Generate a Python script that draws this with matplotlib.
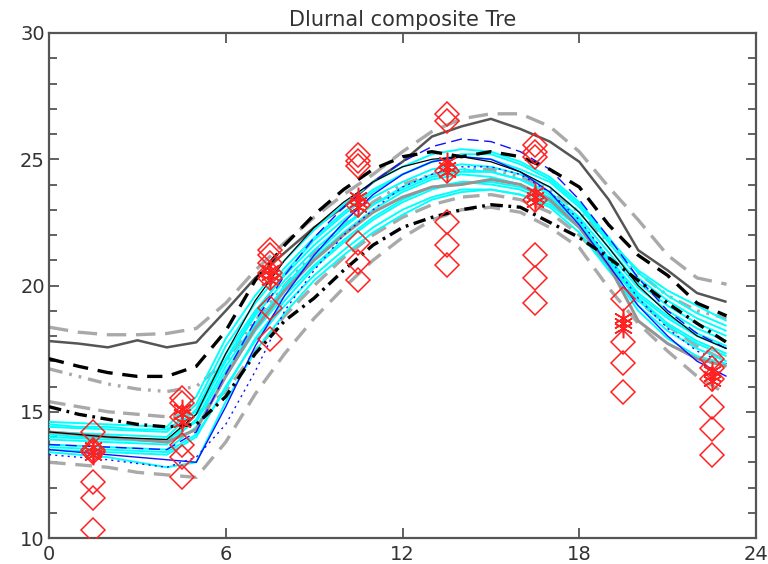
import matplotlib
matplotlib.use("Agg")
import matplotlib.pyplot as plt
import numpy as np

plt.rcParams['lines.scale_dashes'] = False

hours = list(range(24))

# ---- model / composite curves (hourly, 0..23) ----
dark_gray_solid = [17.8, 17.7, 17.55, 17.83, 17.55, 17.75, 19.0, 20.3, 21.3, 22.3, 23.1, 24.1,
                   24.9, 25.9, 26.3, 26.6, 26.2, 25.7, 24.9, 23.4, 21.4, 20.6, 19.7, 19.35]
lgray_longdash = [18.35, 18.15, 18.05, 18.05, 18.1, 18.3, 19.3, 20.6, 21.7, 22.7, 23.6, 24.4,
                  25.3, 26.1, 26.6, 26.8, 26.8, 26.3, 25.3, 23.9, 22.6, 21.2, 20.3, 20.05]
black_dash = [17.1, 16.8, 16.55, 16.4, 16.4, 16.8, 18.2, 20.2, 21.6, 22.8, 23.8, 24.6,
              25.1, 25.3, 25.1, 25.3, 25.1, 24.6, 23.9, 22.4, 21.2, 20.4, 19.3, 18.8]
lgray_dashdot = [16.7, 16.4, 16.1, 15.9, 15.8, 16.0, 17.0, 18.6, 20.0, 21.3, 22.4, 23.3,
                 24.0, 24.4, 24.6, 24.6, 24.3, 23.8, 22.9, 21.7, 20.5, 19.6, 19.0, 18.7]
black_dashdot = [15.2, 14.9, 14.7, 14.5, 14.4, 14.5, 15.6, 17.3, 18.6, 19.5, 20.6, 21.6,
                 22.3, 22.7, 23.0, 23.2, 23.1, 22.5, 21.9, 21.1, 20.2, 19.3, 18.5, 17.75]
lgray_dash_mid = [15.4, 15.2, 15.0, 14.9, 14.8, 14.9, 15.8, 17.4, 18.8, 20.0, 21.1, 22.0,
                  22.7, 23.2, 23.5, 23.6, 23.4, 22.9, 22.0, 20.8, 19.4, 18.4, 17.6, 17.0]
lgray_dash_low = [13.0, 12.9, 12.8, 12.6, 12.5, 12.4, 13.8, 15.7, 17.3, 18.7, 19.9, 21.0,
                  21.9, 22.6, 23.0, 23.1, 22.9, 22.3, 21.5, 19.9, 18.5, 17.4, 16.4, 15.7]
gray_solid = [14.2, 14.1, 14.0, 13.9, 13.8, 14.3, 16.4, 18.3, 19.8, 21.0, 22.0, 22.9,
              23.5, 23.9, 24.0, 24.2, 24.0, 23.4, 22.3, 20.8, 18.6, 17.7, 17.1, 16.8]

cyan_1 = [14.6, 14.55, 14.5, 14.45, 14.4, 15.6, 17.9, 19.6, 21.0, 22.2, 23.2, 24.1,
          24.7, 25.2, 25.4, 25.3, 24.9, 24.3, 23.3, 21.9, 20.5, 19.6, 18.9, 18.4]
cyan_2 = [14.4, 14.35, 14.3, 14.25, 14.2, 15.3, 17.6, 19.3, 20.7, 21.9, 22.9, 23.8,
          24.4, 24.9, 25.1, 25.0, 24.6, 24.1, 23.1, 21.7, 20.3, 19.4, 18.7, 18.2]
cyan_3 = [14.2, 14.15, 14.1, 14.05, 14.0, 15.1, 17.3, 19.0, 20.4, 21.6, 22.6, 23.5,
          24.1, 24.6, 24.8, 24.7, 24.4, 23.9, 22.9, 21.5, 20.1, 19.2, 18.5, 18.0]
cyan_4 = [14.0, 13.95, 13.9, 13.85, 13.8, 14.9, 17.0, 18.8, 20.2, 21.4, 22.4, 23.2,
          23.9, 24.4, 24.6, 24.5, 24.2, 23.7, 22.7, 21.3, 19.9, 19.0, 18.3, 17.8]
cyan_5 = [13.9, 13.85, 13.8, 13.75, 13.7, 14.7, 16.8, 18.5, 19.9, 21.1, 22.1, 23.0,
          23.7, 24.2, 24.4, 24.3, 24.0, 23.5, 22.5, 21.1, 19.7, 18.8, 18.1, 17.6]
cyan_6 = [13.7, 13.65, 13.6, 13.55, 13.5, 14.4, 16.4, 18.2, 19.6, 20.8, 21.8, 22.7,
          23.4, 23.9, 24.1, 24.0, 23.8, 23.3, 22.3, 20.9, 19.5, 18.5, 17.8, 17.3]
cyan_7 = [13.5, 13.45, 13.4, 13.35, 13.3, 14.0, 16.0, 17.8, 19.2, 20.4, 21.4, 22.3,
          23.0, 23.5, 23.8, 23.8, 23.6, 23.1, 22.1, 20.6, 19.2, 18.2, 17.5, 17.0]
cyan_8 = [13.4, 13.3, 13.2, 13.0, 12.8, 13.0, 15.4, 17.4, 18.9, 20.2, 21.2, 22.1,
          22.8, 23.4, 23.7, 23.8, 23.6, 23.2, 22.3, 20.7, 19.0, 17.9, 17.2, 16.9]
cyan_9 = [14.5, 14.4, 14.4, 14.3, 14.3, 15.0, 17.1, 18.9, 20.5, 21.8, 22.8, 23.7,
          24.4, 24.9, 25.2, 25.2, 24.8, 24.2, 23.2, 21.8, 20.6, 19.8, 19.2, 18.6]
cyan_10 = [14.1, 14.0, 14.0, 13.9, 13.9, 14.6, 16.6, 18.4, 20.0, 21.2, 22.3, 23.2,
           23.8, 24.3, 24.5, 24.5, 24.2, 23.6, 22.6, 21.0, 19.6, 18.7, 18.0, 17.5]
cyan_11 = [13.6, 13.55, 13.5, 13.45, 13.4, 14.1, 15.9, 17.9, 19.4, 20.7, 21.7, 22.6,
           23.3, 23.8, 24.1, 24.1, 23.9, 23.4, 22.5, 20.9, 19.4, 18.4, 17.7, 17.2]
cyan_series = [cyan_1, cyan_2, cyan_3, cyan_4, cyan_5, cyan_6, cyan_7, cyan_8,
               cyan_9, cyan_10, cyan_11]

blue_solid = [13.5, 13.4, 13.3, 13.2, 13.1, 13.0, 15.2, 17.6, 19.6, 21.2, 22.5, 23.6,
              24.4, 24.9, 25.1, 25.0, 24.5, 23.7, 22.4, 20.8, 19.2, 18.0, 17.0, 16.4]
blue_dash = [13.7, 13.65, 13.6, 13.55, 13.5, 14.2, 16.5, 18.6, 20.4, 21.9, 23.1, 24.1,
             24.9, 25.5, 25.8, 25.7, 25.3, 24.6, 23.4, 21.9, 20.3, 19.0, 18.1, 17.5]
blue_dot = [13.3, 13.2, 13.1, 12.95, 12.8, 13.2, 14.5, 16.6, 19.0, 20.6, 22.0, 23.0,
            23.9, 24.4, 24.7, 24.7, 24.4, 23.7, 22.6, 21.1, 19.5, 18.3, 17.4, 16.9]
black_thin = [14.2, 14.1, 14.0, 13.95, 13.9, 14.9, 17.3, 19.4, 21.0, 22.3, 23.3, 24.1,
              24.7, 25.0, 25.1, 24.9, 24.5, 23.9, 22.9, 21.5, 20.0, 18.9, 18.0, 17.5]

# ---- observations (3-hourly) ----
obs_hours = [1.5, 4.5, 7.5, 10.5, 13.5, 16.5, 19.5, 22.5]
diamonds = [
    [14.2, 13.5, 13.4, 12.2, 11.6, 10.3],
    [15.55, 15.35, 14.8, 13.7, 13.2, 12.4],
    [21.4, 21.2, 20.9, 20.5, 20.3, 19.1, 17.9],
    [25.15, 24.95, 24.75, 23.2, 21.7, 20.95, 20.2],
    [26.8, 26.5, 24.55, 22.5, 21.6, 20.8],
    [25.55, 25.3, 25.1, 23.4, 21.2, 20.3, 19.3],
    [19.46, 17.75, 16.95, 15.8],
    [17.1, 16.75, 16.3, 15.2, 14.3, 13.3],
]
stars = [
    [13.4, 13.6, 13.3],
    [14.9, 15.1, 14.6],
    [20.4, 20.2, 20.6],
    [23.3, 23.5, 23.1],
    [24.7, 24.9, 24.5],
    [23.5, 23.7, 23.3],
    [18.5, 18.7, 18.3],
    [16.4, 16.6, 16.2],
]

title = "Dlurnal composite Tre"
xticks = [0, 6, 12, 18, 24]
yticks = [10, 15, 20, 25, 30]

LGRAY = '#a9a9a9'
DGRAY = '#555555'
MGRAY = '#959595'

fig = plt.figure(figsize=(7.68, 5.64), dpi=100)
ax = fig.add_axes([49/768, 26/564, 707/768, 505/564])

def ln(y, color, lw, dashes=None, z=2):
    l, = ax.plot(hours, y, color=color, lw=lw, zorder=z, solid_capstyle='butt')
    if dashes:
        l.set_dashes(dashes)
        l.set_dash_capstyle('butt')
    return l

# light gray outer curves
ln(lgray_longdash, LGRAY, 2.4, (14, 7))
ln(lgray_dashdot, LGRAY, 2.4, (10, 5, 2, 5, 2, 5))
ln(lgray_dash_mid, LGRAY, 2.4, (12, 6))
ln(lgray_dash_low, LGRAY, 2.4, (12, 7))
ln(dark_gray_solid, DGRAY, 1.8)

# cyan ensemble
for c in cyan_series:
    ln(c, '#00ffff', 1.4, z=3)

ln(gray_solid, MGRAY, 2.2, z=4)
ln(blue_solid, '#1010ff', 1.0, z=4)
ln(blue_dash, '#1010ff', 1.0, (8, 4), z=4)
ln(blue_dot, '#1010ff', 1.0, (1.5, 3), z=4)
ln(black_thin, 'black', 0.9, z=4)
ln(black_dash, 'black', 2.4, (11, 7), z=5)
ln(black_dashdot, 'black', 2.4, (9, 4, 2, 4), z=5)

# observations
for h, vals in zip(obs_hours, diamonds):
    ax.plot([h] * len(vals), vals, linestyle='none', marker='D', markersize=12,
            mfc='none', mec='#ff2020', mew=1.1, zorder=6)
for h, vals in zip(obs_hours, stars):
    ax.plot([h] * len(vals), vals, linestyle='none', marker=(6, 2, 0), markersize=14,
            mec='#ff2020', mew=1.1, zorder=6)

ax.set_xlim(0, 24)
ax.set_ylim(10, 30)
ax.set_xticks(xticks)
ax.set_yticks(yticks)
ax.set_xticklabels([str(t) for t in xticks])
ax.set_yticklabels([str(t) for t in yticks])
ax.set_yticks(np.arange(10, 31, 1), minor=True)
ax.tick_params(axis='both', which='both', direction='in', top=True, right=True,
               labelsize=14, labelcolor='#333333', color='#555555', width=1.3)
ax.tick_params(axis='both', which='major', length=7)
ax.tick_params(axis='y', which='minor', length=5.5)
ax.tick_params(axis='x', which='major', pad=5)
ax.tick_params(axis='y', which='major', pad=3)
for s in ax.spines.values():
    s.set_color('#555555')
    s.set_linewidth(1.6)
ax.set_title(title, fontsize=15, color='#333333', pad=5)

fig.savefig('out.png', dpi=100, facecolor='white')
